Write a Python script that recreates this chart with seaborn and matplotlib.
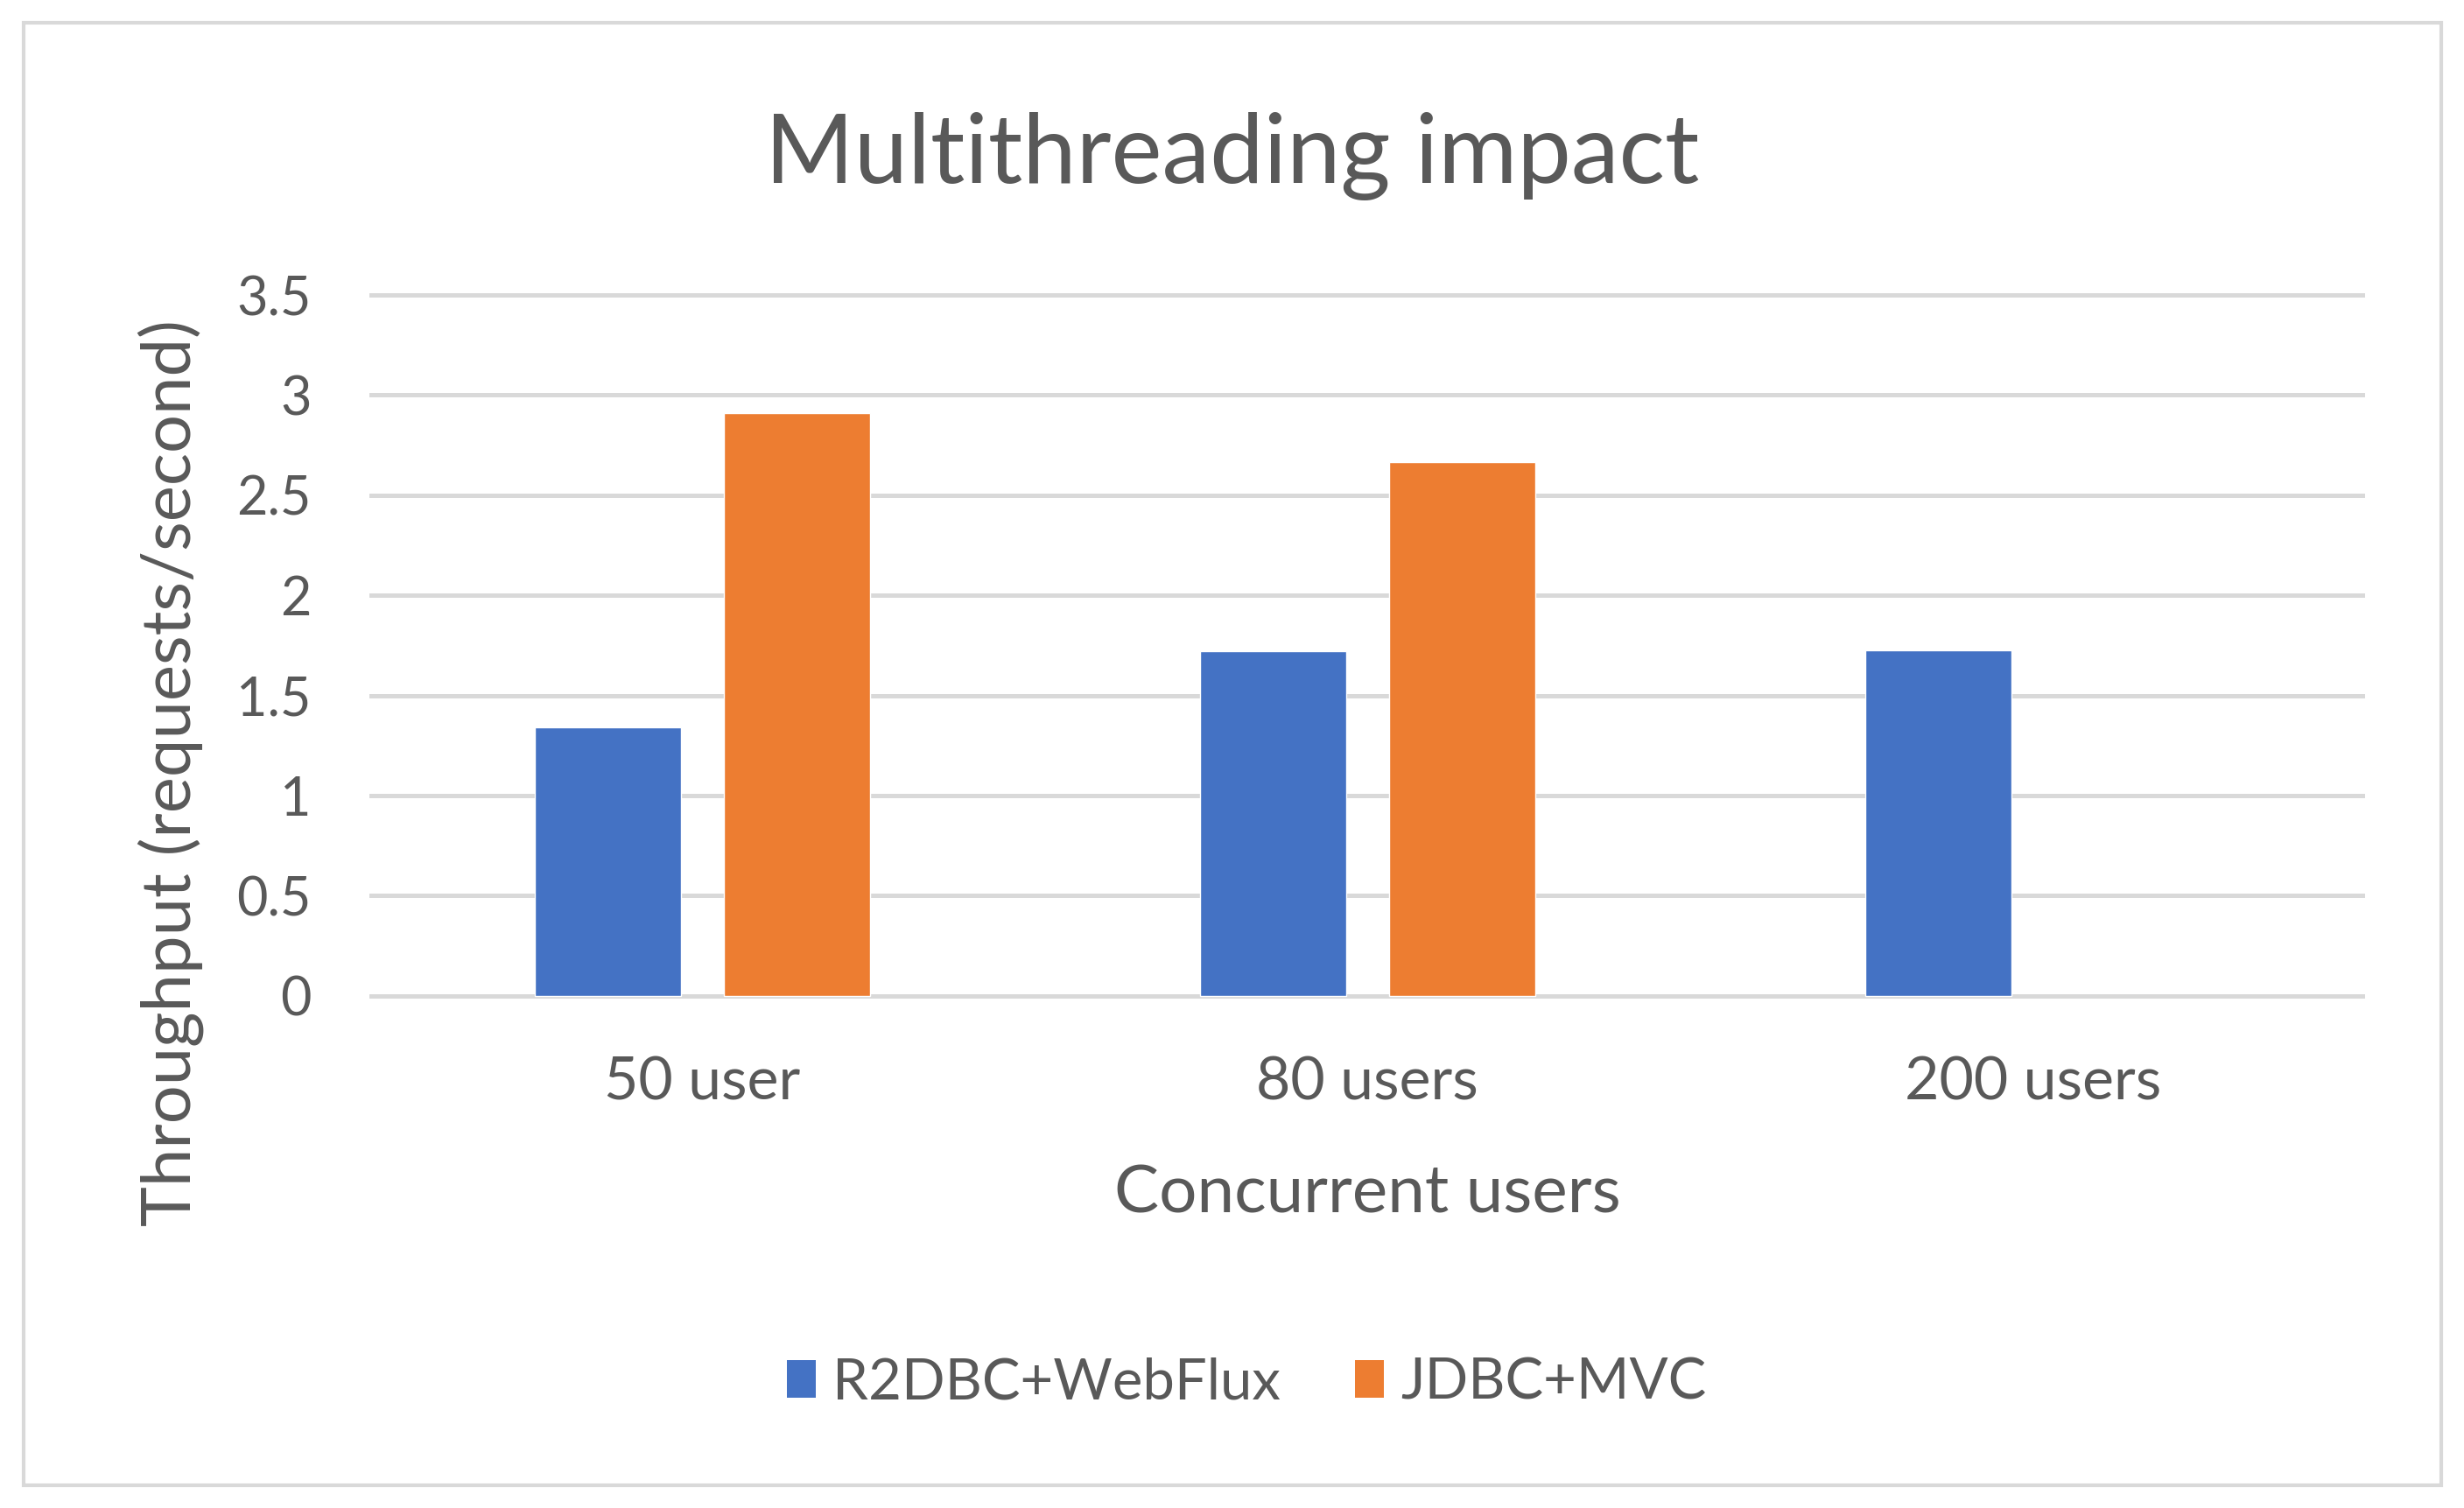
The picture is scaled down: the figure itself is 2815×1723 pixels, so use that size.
import numpy as np
import pandas as pd
import matplotlib
matplotlib.use('Agg')
import matplotlib.pyplot as plt
from matplotlib.patches import Rectangle, Patch
import seaborn as sns

# 数据
categories = ['50 user', '80 users', '200 users']
series_names = ['R2DBC+WebFlux', 'JDBC+MVC']
r2dbc_webflux = [1.34, 1.72, 1.725]
jdbc_mvc = [2.91, 2.665, np.nan]   # 200 users 没有 JDBC 数据
y_ticks = [0, 0.5, 1, 1.5, 2, 2.5, 3, 3.5]

colors = ['#4472C4', '#ED7D31']
text_color = '#595959'
grid_color = '#D9D9D9'

df = pd.DataFrame({
    'users': categories * 2,
    'series': [series_names[0]] * 3 + [series_names[1]] * 3,
    'throughput': r2dbc_webflux + jdbc_mvc,
})

sns.set_theme(style='white')
plt.rcParams['font.family'] = ['Lato', 'DejaVu Sans']

fig = plt.figure(figsize=(28.15, 17.23), dpi=100)
ax = fig.add_axes([0.150, 0.337, 0.810, 0.470])

sns.barplot(data=df, x='users', y='throughput', hue='series',
            order=categories, hue_order=series_names, palette=colors,
            width=0.567, gap=0.225, saturation=1, ax=ax, legend=False)

ax.set_ylim(-0.02, 3.52)
ax.set_xlim(-0.5, 2.5)
ax.set_yticks(y_ticks)
ax.set_yticklabels([f'{v:g}' for v in y_ticks])
ax.yaxis.grid(True, color=grid_color, linewidth=3.6)
ax.set_axisbelow(True)
for s in ax.spines.values():
    s.set_visible(False)
ax.tick_params(axis='both', length=0, colors=text_color)
ax.tick_params(axis='y', pad=48, labelsize=44)
ax.tick_params(axis='x', pad=46, labelsize=49)

ax.set_xlabel('Concurrent users', fontsize=55, color=text_color, labelpad=44)
ax.set_ylabel('Throughput (requests/second)', fontsize=56, color=text_color)
# Excel 的纵轴标题比绘图区中心略低
ax.yaxis.set_label_coords(-0.083, 0.32)

fig.suptitle('Multithreading impact', fontsize=79, color=text_color, y=0.926)

# 图例
handles = [Patch(facecolor=c, edgecolor='none') for c in colors]
fig.legend(handles, series_names, loc='center', bbox_to_anchor=(0.506, 0.083),
           ncol=2, frameon=False, fontsize=47, labelcolor=text_color,
           handlelength=0.5, handleheight=0.62, handletextpad=0.3, columnspacing=1.3)

# 外框
fig.patches.append(Rectangle((0.0096, 0.015), 0.981, 0.970, transform=fig.transFigure,
                             fill=False, edgecolor=grid_color, linewidth=3))

fig.savefig('out.png', dpi=100, facecolor='white')
